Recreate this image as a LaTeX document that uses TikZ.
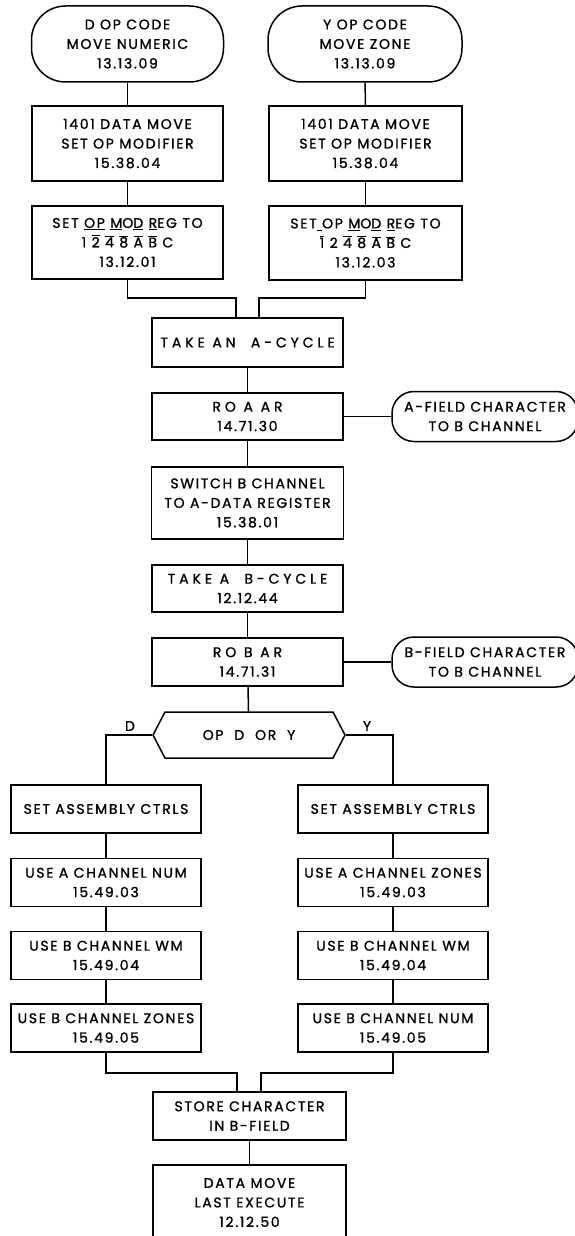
\documentclass[tikz,border=0pt]{standalone}
\usepackage{fontspec}
\setmainfont{Poppins}[LetterSpace=12,FakeBold=1.2]
\usepackage{tikz}
\usetikzlibrary{arrows,shapes}
\newcommand\ovl[1]{$\overline{\hbox{#1}}$}
\newcommand\wide{\addfontfeature{LetterSpace=28}}
\tikzstyle{block}=[draw,line width=1.5pt,rectangle,align=center,inner sep=0pt,minimum width=191pt,font=\fontsize{14}{19.5}\selectfont]
\tikzstyle{terminal}=[block,rounded corners=34pt,minimum height=76pt]
\tikzstyle{sideterm}=[block,rounded corners=22pt,minimum width=186pt,minimum height=50pt]
\tikzstyle{decision}=[block,signal,signal to=west and east,signal pointer angle=125,minimum height=46pt]
\tikzstyle{link} = [draw,line width=1.5pt,-]
\tikzstyle{lbl}=[inner sep=0pt,font=\fontsize{14}{15}\selectfont]

\begin{document}
\begin{tikzpicture}[x=1pt,y=-1pt]
    \useasboundingbox (0,0) rectangle (575,1236);
    % the two entry points, one for each op code
    \node[terminal,minimum width=192pt] (dop) at (127.5,44) {D OP CODE\\MOVE NUMERIC\\13.13.09};
    \node[terminal,minimum width=194pt] (yop) at (365,44) {Y OP CODE\\MOVE ZONE\\13.13.09};
    \node[block,minimum height=75pt] (dmove) at (127.5,143.5) {1401 DATA MOVE\\SET OP MODIFIER\\15.38.04};
    \node[block,minimum height=75pt,minimum width=193pt] (ymove) at (365.5,143.5) {1401 DATA MOVE\\SET OP MODIFIER\\15.38.04};
    \node[block,minimum height=73pt] (dmod) at (127.5,242.5)
        {SET \underline{OP} \underline{M}O\underline{D} \underline{R}EG TO\\1 \ovl{2} \ovl{4} \ovl{8} \ovl{A} \ovl{B} C\\13.12.01};
    \node[block,minimum height=74pt,minimum width=193pt] (ymod) at (365.5,243)
        {SET\underline{\ }OP \underline{M}O\underline{D} \underline{R}EG TO\\\ovl{1} 2 \ovl{4} \ovl{8} \ovl{A} \ovl{B} C\\13.12.03};
    % common path
    \node[block,minimum height=49pt] (takeA) at (247.5,342.5) {{\wide TAKE AN\ \ A-CYCLE}};
    \node[block,minimum height=47pt] (roA) at (247.5,416.5) {{\wide RO A AR}\\14.71.30};
    \node[sideterm] (afield) at (485,416.5) {A-FIELD CHARACTER\\TO B CHANNEL};
    \node[block,minimum height=72pt,minimum width=192pt] (switch) at (247.5,503) {SWITCH B CHANNEL\\TO A-DATA REGISTER\\15.38.01};
    \node[block,minimum height=47pt] (takeB) at (247.5,588.5) {{\wide TAKE A\ \ B-CYCLE}\\12.12.44};
    \node[block,minimum height=48pt] (roB) at (247.5,662) {{\wide RO B AR}\\14.71.31};
    \node[sideterm] (bfield) at (485,662) {B-FIELD CHARACTER\\TO B CHANNEL};
    \node[decision,minimum width=192pt] (opdy) at (249,735) {OP\ \ D\ \ OR\ \ Y};
    \node[lbl] (dlbl) at (130,726) {D};
    \node[lbl] (ylbl) at (367,726) {Y};
    % the two branches
    \foreach \pos/\name/\txt in {{(106,809)/setD/SET ASSEMBLY CTRLS}, {(106,882.5)/useAD/USE A CHANNEL NUM\\15.49.03},
        {(106,955.5)/useBD/USE B CHANNEL WM\\15.49.04}, {(106,1028)/useZD/USE B CHANNEL ZONES\\15.49.05},
        {(393,809)/setY/SET ASSEMBLY CTRLS}, {(393,882.5)/useAY/USE A CHANNEL ZONES\\15.49.03},
        {(393,955.5)/useBY/USE B CHANNEL WM\\15.49.04}, {(393,1028)/useNY/USE B CHANNEL NUM\\15.49.05}}
        \node[block,minimum width=190pt,minimum height=48pt] (\name) at \pos {\txt};
    \node[block,minimum height=48pt,minimum width=193pt] (store) at (249.5,1116) {STORE CHARACTER\\IN B-FIELD};
    \node[block,minimum height=75pt,minimum width=193pt] (last) at (249.5,1202.5) {DATA MOVE\\LAST EXECUTE\\12.12.50};
    % join points
    \coordinate (jd) at (236,298);
    \coordinate (jy) at (259,298);
    \coordinate (sd) at (237,1073);
    \coordinate (sy) at (261,1073);
    % Connect the boxes
    \foreach \source/ \dest in {dop/dmove, dmove/dmod, yop/ymove, ymove/ymod, takeA/roA, roA/switch, switch/takeB,
        takeB/roB, roB/opdy, roA/afield, roB/bfield, setD/useAD, useAD/useBD, useBD/useZD,
        setY/useAY, useAY/useBY, useBY/useNY, store/last}
        \path[link] (\source) -- (\dest);
    \path[link] (dmod) |- (jd) -- (jd |- takeA.north);
    \path[link] (ymod) |- (jy) -- (jy |- takeA.north);
    \path[link] (opdy.west) -| (setD);
    \path[link] (opdy.east) -| (setY);
    \path[link] (useZD) |- (sd) -- (sd |- store.north);
    \path[link] (useNY) |- (sy) -- (sy |- store.north);
\end{tikzpicture}
\end{document}
